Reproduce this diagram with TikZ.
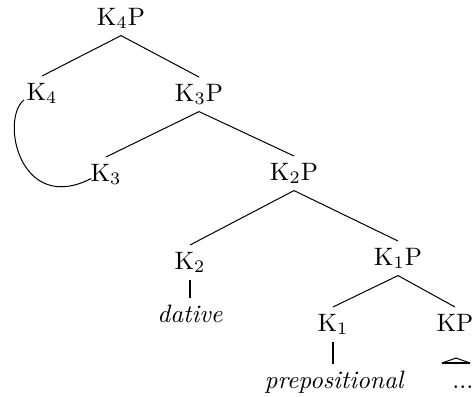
\documentclass[tikz,border=0pt]{standalone}
\usetikzlibrary{calc}
\begin{document}
\begin{tikzpicture}[x=0.397pt,y=-0.397pt,
  lab/.style={inner sep=2.5pt, anchor=base},
  edge/.style={line width=0.4pt},
  bar/.style={line width=1.1pt},
  roofbase/.style={line width=0.9pt}]
\useasboundingbox (0,0) rectangle (474,396);
% nodes
\node[lab] (k4p) at (121,25) {K$_4$P};
\node[lab] (k4)  at (42,100) {K$_4$};
\node[lab] (k3p) at (199,101) {K$_3$P};
\node[lab] (k3)  at (106,181) {K$_3$};
\node[lab] (k2p) at (294,180) {K$_2$P};
\node[lab] (k2)  at (190,269) {K$_2$};
\node[lab] (k1p) at (398,265) {K$_1$P};
\node[lab] (dat) at (190,322) {\itshape dative};
\node[lab] (k1)  at (333,331) {K$_1$};
\node[lab] (kp)  at (455,331) {KP};
\node[lab] (prep) at (334,388) {\itshape prepositional};
\node[lab] (dots) at (463,388) {...};
% edges
\draw[edge] (k4p.south) -- (k4.north);
\draw[edge] (k4p.south) -- (k3p.north);
\draw[edge] (k3p.south) -- (k3.north);
\draw[edge] (k3p.south) -- (k2p.north);
\draw[edge] (k2p.south) -- (k2.north);
\draw[edge] (k2p.south) -- (k1p.north);
\draw[edge] (k1p.south) -- (k1.north);
\draw[edge] (k1p.south) -- (kp.north);
\draw[bar] (k2.south) -- (k2.south |- dat.north);
\draw[bar] (k1.south) -- (k1.south |- prep.north);
% roof over the dots
\coordinate (roofT) at (456,358);
\coordinate (roofL) at (442,363);
\coordinate (roofR) at (470,363);
\draw[edge] (roofL) -- (roofT) -- (roofR);
\draw[roofbase] (roofL) -- (roofR);
% movement curve
\draw[edge] ([xshift=1.6pt]k4.base west) .. controls (0,120) and (20,215) .. ([xshift=3pt,yshift=1pt]k3.base west);
\end{tikzpicture}
\end{document}
